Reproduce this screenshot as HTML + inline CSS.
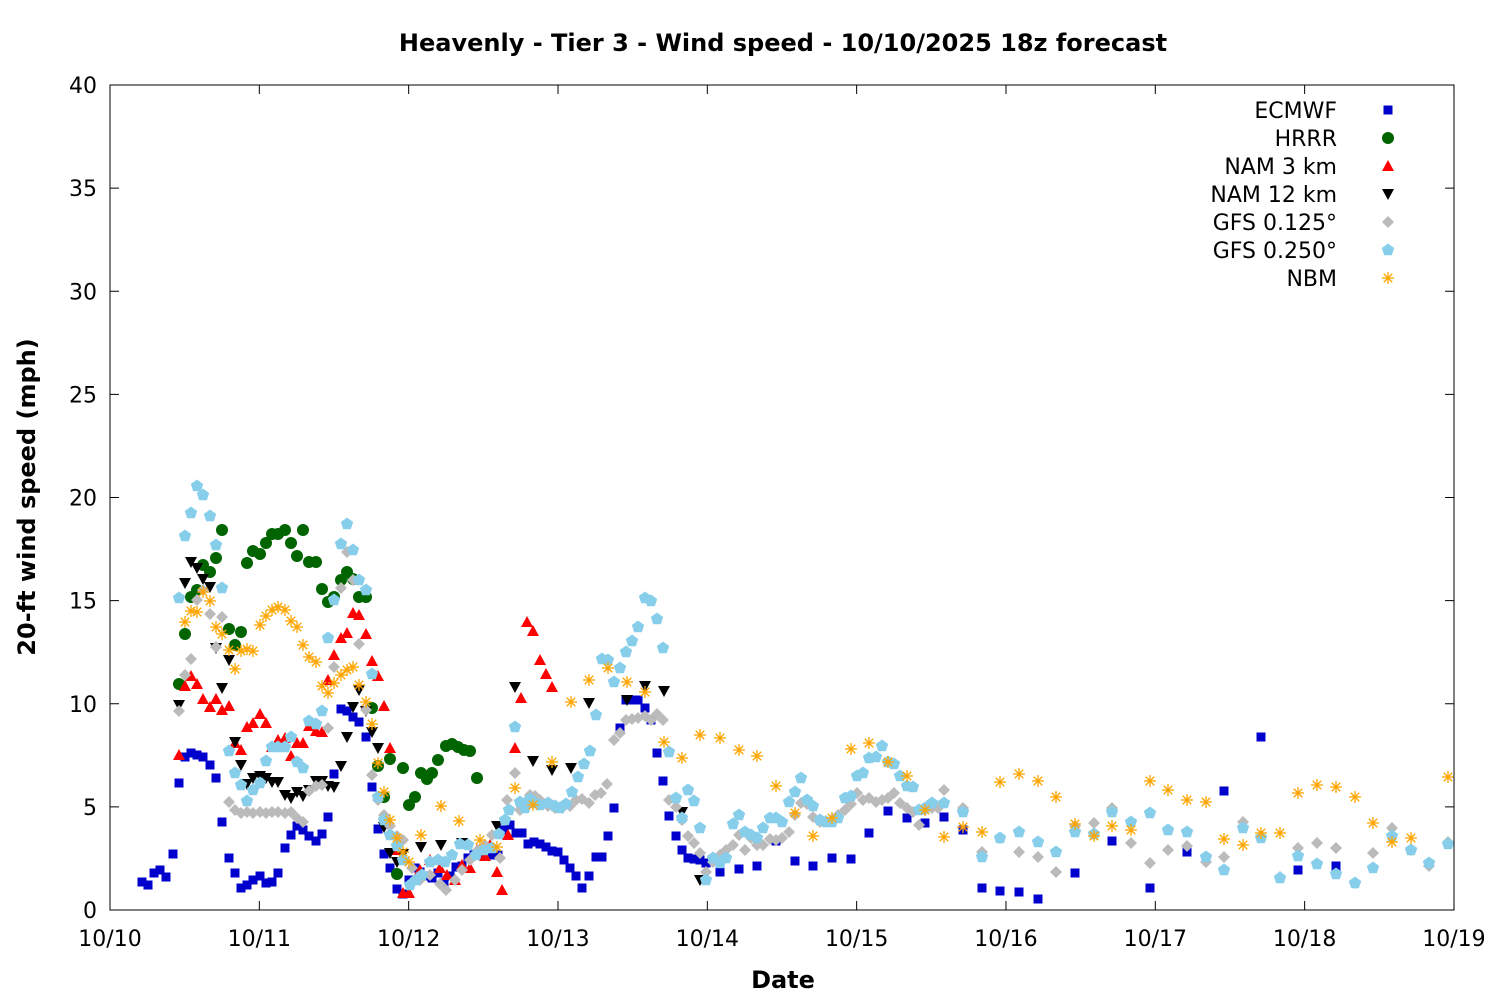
<!DOCTYPE html>
<html><head><meta charset="utf-8"><style>
body{margin:0;background:#fff}
svg text{font-family:"DejaVu Sans","Liberation Sans",sans-serif}
</style></head><body>
<svg id="s" width="1500" height="1000" xmlns="http://www.w3.org/2000/svg">
<rect width="1500" height="1000" fill="#fff"/>
<text x="783" y="51" text-anchor="middle" font-size="24" font-weight="bold">Heavenly - Tier 3 - Wind speed - 10/10/2025 18z forecast</text>
<text x="783" y="988" text-anchor="middle" font-size="24" font-weight="bold">Date</text>
<text transform="translate(35,497) rotate(-90)" text-anchor="middle" font-size="24" font-weight="bold">20-ft wind speed (mph)</text>
<g id="pts"></g>
<rect x="110" y="85" width="1344" height="825" fill="none" stroke="#000" stroke-width="1"/>
<g id="ax"></g>
</svg>
<script>
const NS="http://www.w3.org/2000/svg";
function el(t,a,p){const e=document.createElementNS(NS,t);for(const k in a)e.setAttribute(k,a[k]);(p||document.getElementById('pts')).appendChild(e);return e;}
const ax=document.getElementById('ax');
for(let v=0;v<=40;v+=5){const y=910-v*20.625;
el('line',{x1:110,y1:y,x2:119,y2:y,stroke:'#000'},ax);el('line',{x1:1445,y1:y,x2:1454,y2:y,stroke:'#000'},ax);
const t=el('text',{x:97,y:y+8,'text-anchor':'end','font-size':22},ax);t.textContent=v;}
const dl=['10/10','10/11','10/12','10/13','10/14','10/15','10/16','10/17','10/18','10/19'];
dl.forEach((d,i)=>{const x=110+i*149.33;
el('line',{x1:x,y1:910,x2:x,y2:901,stroke:'#000'},ax);el('line',{x1:x,y1:85,x2:x,y2:94,stroke:'#000'},ax);
const t=el('text',{x:x,y:946,'text-anchor':'middle','font-size':22},ax);t.textContent=d;});
function sym(type,x,y,g){
 g=g||document.getElementById('pts');
 if(type==0)el('rect',{x:x-4.5,y:y-4.5,width:9,height:9,fill:'#0000cc'},g);
 else if(type==1)el('circle',{cx:x,cy:y,r:6,fill:'#006400'},g);
 else if(type==2)el('polygon',{points:`${x},${y-6} ${x+6},${y+5} ${x-6},${y+5}`,fill:'#ff0000'},g);
 else if(type==3)el('polygon',{points:`${x},${y+6} ${x+6},${y-5} ${x-6},${y-5}`,fill:'#000'},g);
 else if(type==4)el('polygon',{points:`${x},${y-6} ${x+6},${y} ${x},${y+6} ${x-6},${y}`,fill:'#bbbbbb'},g);
 else if(type==5){let p=[];for(let i=0;i<5;i++){const a=-Math.PI/2+i*2*Math.PI/5;p.push((x+6.5*Math.cos(a)).toFixed(1)+','+(y+6.5*Math.sin(a)).toFixed(1));}el('polygon',{points:p.join(' '),fill:'#87ceeb'},g);}
 else if(type==6){for(let i=0;i<4;i++){const a=i*Math.PI/4;el('line',{x1:x-6*Math.cos(a),y1:y-6*Math.sin(a),x2:x+6*Math.cos(a),y2:y+6*Math.sin(a),stroke:'#ffa500','stroke-width':1.3},g);}}
}
const D=[
[142,882,148,885,154,873,160,870,166,877,173,854,179,783,185,757,191,753,197,755,203,757,210,765,216,778,222,822,229,858,235,873,241,888,247,885,253,880,260,876,266,883,272,882,278,873,285,848,291,835,297,826,303,830,309,836,316,841,322,834,328,817,334,774,341,709,347,711,353,717,359,722,366,737,372,787,378,829,384,854,390,868,397,889,403,894,409,880,415,868,420,872,426,876,432,878,438,873,444,883,450,876,456,867,462,866,468,858,474,855,480,853,486,848,492,855,498,855,504,830,510,825,516,833,522,833,528,844,534,842,540,844,546,847,552,851,558,852,564,860,570,868,576,876,582,888,589,876,596,857,602,857,608,836,614,808,620,728,626,700,632,700,638,700,645,708,651,720,657,753,663,781,669,816,676,836,682,850,688,858,694,859,700,860,706,863,720,872,739,869,757,866,776,841,795,861,813,866,832,858,851,859,869,833,888,811,907,818,925,823,944,817,963,830,982,888,1000,891,1019,892,1038,899,1075,873,1112,841,1150,888,1187,852,1224,791,1261,737,1298,870,1336,866],
[179,684,185,634,191,597,197,590,203,565,210,572,216,558,222,530,229,629,235,645,241,632,247,563,253,551,260,554,266,543,272,534,278,534,285,530,291,543,297,556,303,530,309,562,316,562,322,589,328,602,334,597,341,580,347,572,353,579,359,597,366,597,372,708,378,766,384,797,390,759,397,874,403,768,409,805,415,797,421,773,427,779,432,773,438,760,446,746,452,744,458,747,464,750,470,751,477,778],
[179,755,185,686,191,676,197,684,203,699,210,707,216,699,222,710,229,706,235,743,241,750,247,727,253,723,260,714,266,723,272,747,278,740,285,738,291,756,297,743,303,743,309,726,316,731,322,732,328,680,334,655,341,638,347,633,353,613,359,615,366,634,372,661,378,676,384,706,390,748,397,850,403,893,409,893,420,870,430,860,440,868,447,875,455,880,462,865,470,868,477,850,485,856,490,845,497,872,502,890,508,835,515,748,521,698,527,622,533,631,540,660,546,674,552,687],
[179,705,185,583,191,562,197,568,203,579,210,587,216,648,222,688,229,660,235,742,241,765,247,784,253,778,260,776,266,778,272,782,278,782,285,795,291,798,297,792,303,796,309,790,316,781,322,781,328,786,334,787,341,766,347,737,353,707,359,690,366,711,372,732,378,748,384,827,390,853,397,862,403,854,421,847,441,845,462,843,497,826,515,687,533,761,552,770,571,768,589,703,627,700,645,686,664,691,682,812,700,880],
[179,711,185,675,191,659,197,600,203,590,210,614,216,647,222,617,229,802,235,810,241,813,247,812,253,813,260,812,266,813,272,812,278,812,285,813,291,812,297,818,303,822,309,791,316,786,322,785,328,728,334,667,341,588,347,552,353,580,359,644,366,710,372,775,378,800,384,815,390,826,397,836,403,840,412,868,420,880,430,875,440,884,446,890,455,880,462,870,470,860,478,850,485,845,492,835,500,858,507,800,515,773,520,810,525,803,530,795,535,796,540,800,548,806,555,808,562,808,570,806,576,800,582,799,589,803,595,795,601,793,607,784,614,740,620,733,626,720,632,719,638,718,645,716,651,720,657,714,663,720,669,800,676,807,682,820,688,836,694,843,700,853,706,872,713,862,720,855,726,850,733,845,739,835,745,850,751,838,757,845,763,845,770,839,776,840,782,838,789,832,795,815,801,803,807,804,813,817,820,822,826,821,832,820,838,815,845,810,851,804,857,793,863,800,869,798,876,802,882,800,888,798,894,793,900,803,907,808,913,812,919,825,925,810,932,808,938,808,944,790,963,808,982,852,1000,838,1019,852,1038,857,1056,872,1075,826,1094,823,1112,808,1131,843,1150,863,1168,850,1187,846,1206,862,1224,857,1243,822,1261,836,1280,877,1298,848,1317,843,1336,848,1355,883,1373,853,1392,828,1411,850,1429,866,1448,842],
[179,598,185,536,191,513,197,486,203,495,210,516,216,545,222,588,229,751,235,773,241,785,247,801,253,790,260,783,266,761,272,747,278,747,285,747,291,737,297,762,303,768,309,721,316,724,322,711,328,638,334,600,341,544,347,524,353,550,359,580,366,590,372,674,378,797,384,820,390,835,397,846,403,860,410,885,416,880,422,875,430,862,438,860,445,862,452,855,460,844,468,845,476,855,484,850,492,848,499,834,505,820,509,810,515,727,520,802,525,808,530,799,535,803,540,805,548,803,555,806,560,808,566,804,572,792,578,777,584,764,590,751,596,715,602,659,608,660,614,682,620,668,626,652,632,641,638,627,645,598,651,601,657,619,663,648,669,752,676,798,682,818,688,790,694,801,700,828,706,880,713,858,720,863,726,858,733,824,739,815,745,832,751,835,757,838,763,828,770,818,776,818,782,822,789,802,795,792,801,778,807,800,813,806,820,820,826,822,832,822,838,818,845,798,851,796,857,776,863,773,869,758,876,757,882,746,888,762,894,764,900,776,907,786,913,787,919,810,925,808,932,803,944,803,963,812,982,857,1000,838,1019,832,1038,842,1056,852,1075,832,1094,834,1112,812,1131,822,1150,813,1168,830,1187,832,1206,857,1224,870,1243,828,1261,838,1280,878,1298,856,1317,864,1336,874,1355,883,1373,868,1392,836,1411,850,1429,863,1448,844],
[185,622,191,611,197,612,203,592,210,601,216,627,222,634,229,650,235,669,241,651,247,649,253,651,260,625,266,616,272,610,278,607,285,610,291,621,297,627,303,645,309,657,316,662,322,686,328,693,334,683,341,675,347,670,353,667,359,685,366,702,372,724,378,763,384,792,390,820,397,838,403,852,409,862,421,835,441,806,459,821,480,840,497,847,515,788,533,805,552,762,571,702,589,680,608,668,627,682,645,692,664,742,682,758,700,735,720,738,739,750,757,756,776,786,795,813,813,836,832,818,851,749,869,743,888,762,907,776,925,810,944,837,963,827,982,832,1000,782,1019,774,1038,781,1056,797,1075,824,1094,836,1112,826,1131,830,1150,781,1168,790,1187,800,1206,802,1224,839,1243,845,1261,833,1280,833,1298,793,1317,785,1336,787,1355,797,1373,823,1392,842,1411,838,1448,777]];
D.forEach((a,t)=>{for(let i=0;i<a.length;i+=2)sym(t,a[i],a[i+1]);});
const L=['ECMWF','HRRR','NAM 3 km','NAM 12 km','GFS 0.125°','GFS 0.250°','NBM'];
L.forEach((n,i)=>{const y=110+i*28;const t=el('text',{x:1337,y:y+8,'text-anchor':'end','font-size':22},ax);t.textContent=n;sym(i,1388,y,ax);});
</script>
</body></html>
